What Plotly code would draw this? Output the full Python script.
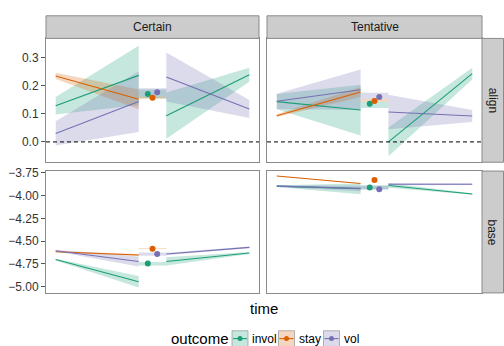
import plotly.graph_objects as go

# ---------------- data ----------------
outcomes = ["invol", "stay", "vol"]
colors = ["#1B9E77", "#D95F02", "#7570B3"]
fills = ["rgba(27,158,119,0.25)", "rgba(217,95,2,0.25)", "rgba(117,112,179,0.25)"]

# time positions of segments
pre_x = [0, 3]
mid_x = [3, 4]
post_x = [4, 7]
point_x = [3.33, 3.5, 3.67]

# Certain / align : [start, end] fitted values, [start, end] ribbon half widths
certain_align_pre_fit = [[0.128, 0.236], [0.234, 0.151], [0.030, 0.143]]
certain_align_pre_hw = [[0.031, 0.105], [0.011, 0.035], [0.043, 0.108]]
certain_align_mid = [0.170, 0.157, 0.176]
certain_align_mid_lo = [0.155, 0.153, 0.161]
certain_align_mid_hi = [0.186, 0.161, 0.190]
certain_align_post_fit = [[0.093, 0.238], None, [0.230, 0.117]]
certain_align_post_hw = [[0.082, 0.025], None, [0.087, 0.032]]

# Tentative / align
tentative_align_pre_fit = [[0.143, 0.113], [0.093, 0.177], [0.144, 0.185]]
tentative_align_pre_hw = [[0.027, 0.090], [0.005, 0.018], [0.027, 0.072]]
tentative_align_mid = [0.135, 0.145, 0.159]
tentative_align_mid_lo = [0.120, 0.142, 0.152]
tentative_align_mid_hi = [0.142, 0.152, 0.174]
tentative_align_post_fit = [[0.000, 0.242], None, [0.106, 0.092]]
tentative_align_post_hw = [[0.051, 0.021], None, [0.061, 0.021]]

# Certain / base
certain_base_pre_fit = [[-4.702, -4.946], [-4.616, -4.652], [-4.605, -4.723]]
certain_base_pre_hw = [[0.010, 0.063], [0.007, 0.010], [0.010, 0.055]]
certain_base_mid = [-4.745, -4.583, -4.641]
certain_base_mid_lo = [-4.768, -4.588, -4.660]
certain_base_mid_hi = [-4.730, -4.578, -4.625]
certain_base_post_fit = [[-4.723, -4.630], None, [-4.641, -4.569]]
certain_base_post_hw = [[0.045, 0.012], None, [0.014, 0.010]]

# Tentative / base
tentative_base_pre_fit = [[-3.897, -3.926], [-3.786, -3.869], [-3.897, -3.922]]
tentative_base_pre_hw = [[0.010, 0.059], [0.004, 0.004], [0.010, 0.030]]
tentative_base_mid = [-3.912, -3.829, -3.930]
tentative_base_mid_lo = [-3.932, -3.832, -3.935]
tentative_base_mid_hi = [-3.890, -3.825, -3.892]
tentative_base_post_fit = [[-3.890, -3.983], None, [-3.876, -3.876]]
tentative_base_post_hw = [[0.025, 0.008], None, [0.012, 0.010]]

col_labels = ["Certain", "Tentative"]
row_labels = ["align", "base"]
align_ticks = [0.0, 0.1, 0.2, 0.3]
align_ticktext = ["0.0", "0.1", "0.2", "0.3"]
base_ticks = [-5.00, -4.75, -4.50, -4.25, -4.00, -3.75]
base_ticktext = ["\u22125.00", "\u22124.75", "\u22124.50", "\u22124.25", "\u22124.00", "\u22123.75"]

# ---------------- layout helpers ----------------
W, H = 504, 346
def px(x):
    return x / W
def py(y):
    return 1 - y / H

FONT = "Liberation Sans, Arial, sans-serif"
BORDER = "#8a8a8a"

panels = [
    ("x", "y", certain_align_pre_fit, certain_align_pre_hw, certain_align_mid, certain_align_mid_lo,
     certain_align_mid_hi, certain_align_post_fit, certain_align_post_hw),
    ("x2", "y2", tentative_align_pre_fit, tentative_align_pre_hw, tentative_align_mid, tentative_align_mid_lo,
     tentative_align_mid_hi, tentative_align_post_fit, tentative_align_post_hw),
    ("x3", "y3", certain_base_pre_fit, certain_base_pre_hw, certain_base_mid, certain_base_mid_lo,
     certain_base_mid_hi, certain_base_post_fit, certain_base_post_hw),
    ("x4", "y4", tentative_base_pre_fit, tentative_base_pre_hw, tentative_base_mid, tentative_base_mid_lo,
     tentative_base_mid_hi, tentative_base_post_fit, tentative_base_post_hw),
]

fig = go.Figure()

def ribbon(xa, ya, xs, fit, hw, fill):
    lo = [fit[0] - hw[0], fit[1] - hw[1]]
    hi = [fit[0] + hw[0], fit[1] + hw[1]]
    fig.add_trace(go.Scatter(x=[xs[0], xs[1], xs[1], xs[0], xs[0]],
                             y=[lo[0], lo[1], hi[1], hi[0], lo[0]],
                             fill="toself", fillcolor=fill, mode="lines",
                             line=dict(width=0), xaxis=xa, yaxis=ya,
                             showlegend=False, hoverinfo="skip"))

for (xa, ya, pre_fit, pre_hw, mid, mid_lo, mid_hi, post_fit, post_hw) in panels:
    # ribbons
    for i in range(3):
        ribbon(xa, ya, pre_x, pre_fit[i], pre_hw[i], fills[i])
        fig.add_trace(go.Scatter(x=[mid_x[0], mid_x[1], mid_x[1], mid_x[0], mid_x[0]],
                                 y=[mid_lo[i], mid_lo[i], mid_hi[i], mid_hi[i], mid_lo[i]],
                                 fill="toself", fillcolor=fills[i], mode="lines",
                                 line=dict(width=0), xaxis=xa, yaxis=ya,
                                 showlegend=False, hoverinfo="skip"))
        if post_fit[i] is not None:
            ribbon(xa, ya, post_x, post_fit[i], post_hw[i], fills[i])
    # lines
    for i in range(3):
        fig.add_trace(go.Scatter(x=pre_x, y=pre_fit[i], mode="lines",
                                 line=dict(color=colors[i], width=1.1),
                                 xaxis=xa, yaxis=ya, showlegend=False, name=outcomes[i]))
        if post_fit[i] is not None:
            fig.add_trace(go.Scatter(x=post_x, y=post_fit[i], mode="lines",
                                     line=dict(color=colors[i], width=1.1),
                                     xaxis=xa, yaxis=ya, showlegend=False, name=outcomes[i]))
    # points
    for i in range(3):
        fig.add_trace(go.Scatter(x=[point_x[i]], y=[mid[i]], mode="markers",
                                 marker=dict(color=colors[i], size=6, line=dict(width=0)),
                                 xaxis=xa, yaxis=ya, showlegend=False, name=outcomes[i]))

xcommon = dict(range=[-0.35, 7.35], showticklabels=False, ticks="", showgrid=False,
               zeroline=False, showline=True, mirror=True, linecolor=BORDER, linewidth=1)
ycommon = dict(showgrid=False, zeroline=False, showline=True, mirror=True,
               linecolor=BORDER, linewidth=1)
tickfont = dict(family=FONT, size=12, color="#333333")

xd1 = [px(46), px(259)]
xd2 = [px(267), px(482)]
yd1 = [py(160), py(34)]
yd2 = [py(293), py(169)]

fig.update_layout(
    width=W, height=H, autosize=False,
    margin=dict(l=0, r=0, t=0, b=0),
    paper_bgcolor="white", plot_bgcolor="white",
    showlegend=False,
    xaxis=dict(domain=xd1, anchor="y", **xcommon),
    xaxis2=dict(domain=xd2, anchor="y2", **xcommon),
    xaxis3=dict(domain=xd1, anchor="y3", **xcommon),
    xaxis4=dict(domain=xd2, anchor="y4", **xcommon),
    yaxis=dict(domain=yd1, anchor="x", range=[-0.072, 0.367], tickvals=align_ticks,
               ticktext=align_ticktext, ticks="outside", ticklen=4, tickcolor="#555555",
               tickfont=tickfont, **ycommon),
    yaxis2=dict(domain=yd1, anchor="x2", range=[-0.072, 0.367], showticklabels=False,
                ticks="", **ycommon),
    yaxis3=dict(domain=yd2, anchor="x3", range=[-5.068, -3.732], tickvals=base_ticks,
                ticktext=base_ticktext, ticks="outside", ticklen=4, tickcolor="#555555",
                tickfont=tickfont, **ycommon),
    yaxis4=dict(domain=yd2, anchor="x4", range=[-5.068, -3.732], showticklabels=False,
                ticks="", **ycommon),
)

shapes = []
# dashed zero lines on the align row
for xr, yr in [("x domain", "y"), ("x2 domain", "y2")]:
    shapes.append(dict(type="line", xref=xr, yref=yr, x0=0, x1=1, y0=0, y1=0,
                       line=dict(color="black", width=1, dash="4px,3px"), layer="above"))
# strips
STRIP = "#CCCCCC"
for xd, lab in zip([xd1, xd2], col_labels):
    shapes.append(dict(type="rect", xref="paper", yref="paper", x0=xd[0], x1=xd[1],
                       y0=py(34), y1=py(11), fillcolor=STRIP, line=dict(color=BORDER, width=1)))
for yd, lab in zip([yd1, yd2], row_labels):
    shapes.append(dict(type="rect", xref="paper", yref="paper", x0=px(482), x1=px(503.5),
                       y0=yd[0], y1=yd[1], fillcolor=STRIP, line=dict(color=BORDER, width=1)))

annotations = []
stripfont = dict(family=FONT, size=12, color="#1A1A1A")
for xd, lab in zip([xd1, xd2], col_labels):
    annotations.append(dict(text=lab, xref="paper", yref="paper", x=(xd[0] + xd[1]) / 2,
                            y=py(22.5), showarrow=False, font=stripfont,
                            xanchor="center", yanchor="middle"))
for yd, lab in zip([yd1, yd2], row_labels):
    annotations.append(dict(text=lab, xref="paper", yref="paper", x=px(492.5),
                            y=(yd[0] + yd[1]) / 2, showarrow=False, font=stripfont,
                            textangle=90, xanchor="center", yanchor="middle"))
# axis title
annotations.append(dict(text="time", xref="paper", yref="paper", x=px(264), y=py(309),
                        showarrow=False, font=dict(family=FONT, size=15, color="black"),
                        xanchor="center", yanchor="middle"))
# legend (drawn manually, ggplot style)
annotations.append(dict(text="outcome", xref="paper", yref="paper", x=px(168.5), y=py(339.5),
                        showarrow=False, font=dict(family=FONT, size=15, color="black"),
                        xanchor="left", yanchor="middle"))
key_left = [232, 278.5, 323.5]
key_w = 16
ky0, ky1 = 331.5, 347.5
kyc = 339.5
for i in range(3):
    x0 = key_left[i]
    shapes.append(dict(type="rect", xref="paper", yref="paper", x0=px(x0), x1=px(x0 + key_w),
                       y0=py(ky1), y1=py(ky0), fillcolor=fills[i],
                       line=dict(color="rgba(150,150,150,0.7)", width=1)))
    shapes.append(dict(type="line", xref="paper", yref="paper", x0=px(x0 + 1), x1=px(x0 + key_w - 1),
                       y0=py(kyc), y1=py(kyc), line=dict(color=colors[i], width=1.1)))
    shapes.append(dict(type="circle", xref="paper", yref="paper", xsizemode="pixel",
                       ysizemode="pixel", xanchor=px(x0 + key_w / 2), yanchor=py(kyc),
                       x0=-2.5, x1=2.5, y0=-2.5, y1=2.5, fillcolor=colors[i],
                       line=dict(width=0)))
    annotations.append(dict(text=outcomes[i], xref="paper", yref="paper", x=px(x0 + key_w + 2),
                            y=py(kyc), showarrow=False,
                            font=dict(family=FONT, size=12, color="black"),
                            xanchor="left", yanchor="middle"))

fig.update_layout(shapes=shapes, annotations=annotations)
fig.write_html("out.html")
